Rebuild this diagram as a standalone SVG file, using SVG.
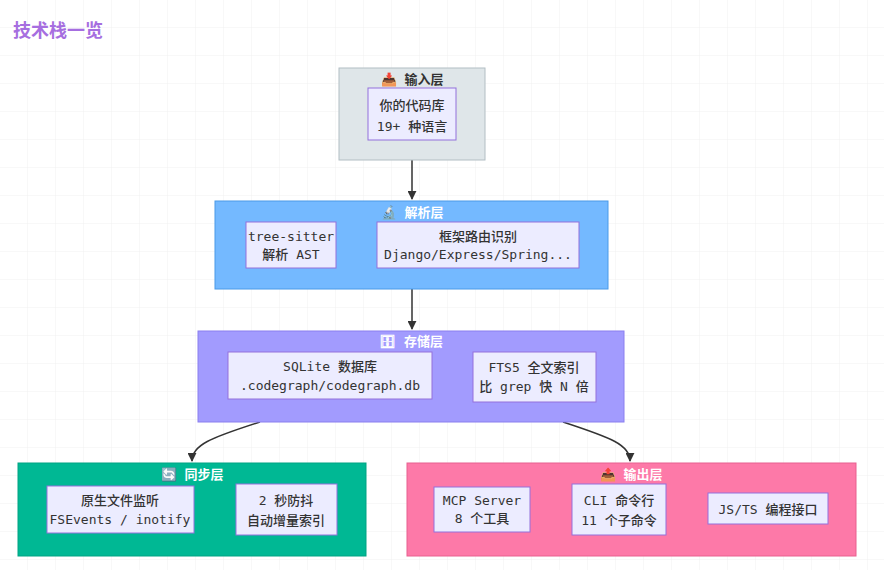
<svg xmlns="http://www.w3.org/2000/svg" width="884" height="570" viewBox="0 0 884 570">
<style>
text{font-family:"DejaVu Sans Mono","Noto Sans CJK SC",monospace;font-size:13px;fill:#333;text-anchor:middle;font-weight:500}
.t{font-weight:bold;fill:#fff}
.n{fill:#ececff;stroke:#9370db;stroke-width:1}
.c{fill:none;stroke:#333;stroke-width:1.5}
</style>
<defs>
<pattern id="g" width="28" height="28" patternUnits="userSpaceOnUse"><path d="M28 0V28H0" fill="none" stroke="#f0f0f0"/></pattern>
<marker id="a" viewBox="0 0 10 10" refX="9" refY="5" markerWidth="6" markerHeight="6" orient="auto"><path d="M0 0L10 5L0 10z" fill="#333"/></marker>
</defs>
<rect width="884" height="570" fill="#fff"/>
<rect width="884" height="570" fill="url(#g)"/>
<text x="13" y="37" style="font-family:'Noto Sans CJK SC',sans-serif;font-size:18px;font-weight:bold;fill:#a66ee0;text-anchor:start">技术栈一览</text>
<g id="connectors">
<path class="c" d="M412 160V199" marker-end="url(#a)"/>
<path class="c" d="M412 289V329" marker-end="url(#a)"/>
<path class="c" d="M260 422C210 438 192 445 192 461" marker-end="url(#a)"/>
<path class="c" d="M563 422C612 438 630 445 630 461" marker-end="url(#a)"/>
</g>
<g id="input">
<rect x="339" y="68" width="146" height="92" fill="#dfe6e9" stroke="#b2bec3"/>
<text x="412" y="84" style="font-weight:bold">📥 输入层</text>
<rect class="n" x="368" y="88" width="88" height="52"/>
<text x="412" y="110">你的代码库</text><text x="412" y="131">19+ 种语言</text>
</g>
<g id="parse">
<rect x="215" y="201" width="393" height="88" fill="#74b9ff" stroke="#4a9ae8"/>
<text class="t" x="412" y="217">🔬 解析层</text>
<g id="treesitter"><rect class="n" x="246" y="222" width="90" height="46"/>
<text x="291" y="241">tree-sitter</text><text x="291" y="259">解析 AST</text></g>
<g id="router"><rect class="n" x="377" y="222" width="202" height="46"/>
<text x="478" y="241">框架路由识别</text><text x="478" y="259">Django/Express/Spring...</text></g>
</g>
<g id="storage">
<rect x="198" y="331" width="426" height="91" fill="#a29bfe" stroke="#8a7fef"/>
<text class="t" x="411" y="346">🗄 存储层</text>
<g id="sqlite"><rect class="n" x="228" y="352" width="204" height="47"/>
<text x="330" y="371">SQLite 数据库</text><text x="330" y="390">.codegraph/codegraph.db</text></g>
<g id="fts"><rect class="n" x="473" y="352" width="123" height="50"/>
<text x="534" y="372">FTS5 全文索引</text><text x="534" y="391">比 grep 快 N 倍</text></g>
</g>
<g id="sync">
<rect x="18" y="463" width="348" height="93" fill="#00b894" stroke="#00a383"/>
<text class="t" x="192" y="479">🔄 同步层</text>
<g id="watch"><rect class="n" x="47" y="486" width="147" height="47"/>
<text x="120" y="505">原生文件监听</text><text x="120" y="524">FSEvents / inotify</text></g>
<g id="debounce"><rect class="n" x="236" y="484" width="101" height="51"/>
<text x="286" y="505">2 秒防抖</text><text x="286" y="525">自动增量索引</text></g>
</g>
<g id="output">
<rect x="407" y="463" width="449" height="93" fill="#fd79a8" stroke="#e8608f"/>
<text class="t" x="631" y="479">📤 输出层</text>
<g id="mcp"><rect class="n" x="434" y="487" width="96" height="45"/>
<text x="482" y="505">MCP Server</text><text x="482" y="523">8 个工具</text></g>
<g id="cli"><rect class="n" x="572" y="484" width="94" height="51"/>
<text x="619" y="505">CLI 命令行</text><text x="619" y="525">11 个子命令</text></g>
<g id="js"><rect class="n" x="708" y="493" width="120" height="31"/>
<text x="768" y="514">JS/TS 编程接口</text></g>
</g>
</svg>
